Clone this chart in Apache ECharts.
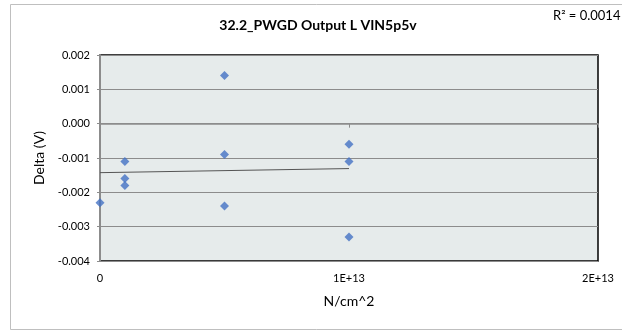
<!DOCTYPE html>
<html>
<head>
<meta charset="utf-8">
<script src="https://cdn.jsdelivr.net/npm/echarts@6/dist/echarts.min.js"></script>
<style>
html,body{margin:0;padding:0;background:#fff;}
#c{width:622px;height:333px;}
</style>
</head>
<body>
<div id="c"></div>
<script>
const titleText = "32.2_PWGD Output L VIN5p5v";
const r2Text = "R\u00B2 = 0.0014";
const xName = "N/cm^2";
const yName = "Delta (V)";
const xValues = [0, 1e12, 1e12, 1e12, 5e12, 5e12, 5e12, 1e13, 1e13, 1e13];
const yValues = [-0.0023, -0.0011, -0.0016, -0.0018, 0.0014, -0.0009, -0.0024, -0.0006, -0.0011, -0.0033];
const xTickLabels = {0: "0", 1e13: "1E+13", 2e13: "2E+13"};

// linear trend from data
const n = xValues.length;
const mx = xValues.reduce((a,b)=>a+b,0)/n;
const my = yValues.reduce((a,b)=>a+b,0)/n;
let sxy = 0, sxx = 0;
for (let i=0;i<n;i++){ sxy += (xValues[i]-mx)*(yValues[i]-my); sxx += (xValues[i]-mx)*(xValues[i]-mx); }
const slope = sxy/sxx;
const icpt = my - slope*mx;
const xMin = Math.min(...xValues), xMax = Math.max(...xValues);
const trend = [[xMin, icpt + slope*xMin],[xMax, icpt + slope*xMax]];

const chart = echarts.init(document.getElementById('c'), null, {renderer:'canvas'});
const font = 'Lato, "Open Sans", sans-serif';
chart.setOption({
  animation:false,
  textStyle:{fontFamily:font},
  graphic:[
    {type:'rect', shape:{x:10.5,y:4.5,width:640,height:325}, style:{fill:'none',stroke:'#bfbfbf',lineWidth:1}, silent:true, z:-10},
    {type:'text', x:318, y:25, style:{text:titleText, font:'bold 14px '+font, fill:'#000', textAlign:'center', textVerticalAlign:'middle'}},
    {type:'text', x:553, y:16, style:{text:r2Text, font:'13px '+font, fill:'#000', textAlign:'left', textVerticalAlign:'middle'}}
  ],
  grid:{left:100, top:55, right:24, bottom:72, show:true, backgroundColor:'#e6ebeb', borderColor:'#000', borderWidth:1.5},
  xAxis:{
    type:'value', min:0, max:2e13, interval:1e13,
    name:xName, nameLocation:'middle', nameGap:33,
    nameTextStyle:{fontSize:14, color:'#000', fontFamily:font},
    axisLine:{show:true, lineStyle:{color:'#8c8c8c', width:1.5}},
    axisTick:{show:true, length:4, lineStyle:{color:'#8c8c8c'}},
    axisLabel:{fontSize:11, color:'#000', margin:12, fontFamily:font, formatter:v=>xTickLabels[v]!==undefined?xTickLabels[v]:String(v)},
    splitLine:{show:false}
  },
  yAxis:{
    type:'value', min:-0.004, max:0.002, interval:0.001,
    name:yName, nameLocation:'middle', nameGap:52, nameRotate:90,
    nameTextStyle:{fontSize:14, color:'#000', fontFamily:font},
    axisLine:{show:true, lineStyle:{color:'#8c8c8c', width:2}},
    axisTick:{show:true, length:3, lineStyle:{color:'#8c8c8c'}},
    axisLabel:{fontSize:11, color:'#000', margin:10, fontFamily:font, formatter:v=>v.toFixed(3)},
    splitLine:{show:true, lineStyle:{color:'#8c8c8c', width:1}}
  },
  series:[
    {type:'scatter', data:xValues.map((x,i)=>[x,yValues[i]]), symbol:'diamond', symbolSize:9,
     itemStyle:{color:'#4472c4'}, z:3},
    {type:'line', data:trend, symbol:'none', lineStyle:{color:'#555', width:1}, z:2}
  ]
});
</script>
</body>
</html>
